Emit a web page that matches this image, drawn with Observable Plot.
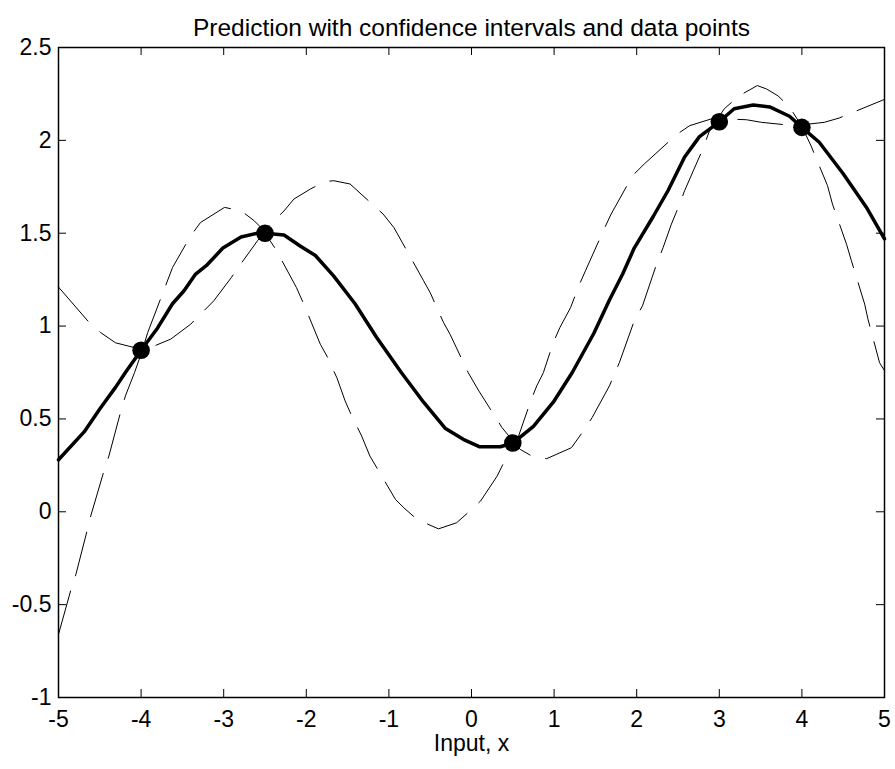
<!DOCTYPE html>
<html><head><meta charset="utf-8">
<script src="https://cdn.jsdelivr.net/npm/d3@7"></script>
<script src="https://cdn.jsdelivr.net/npm/@observablehq/plot@0.6"></script>
<style>html,body{margin:0;padding:0;background:#fff;} #chart svg{display:block;}</style>
</head><body><div id="chart"></div>
<script>
const titleText = "Prediction with confidence intervals and data points";
const xLabelText = "Input, x";
const xTicks = [-5,-4,-3,-2,-1,0,1,2,3,4,5];
const yTicks = [-1,-0.5,0,0.5,1,1.5,2,2.5];

const meanX = [-5.00,-4.69,-4.49,-4.31,-4.19,-4.00,-3.80,-3.62,-3.48,-3.34,-3.20,-3.01,-2.79,-2.59,-2.50,-2.27,-2.07,-1.89,-1.67,-1.41,-1.15,-0.85,-0.58,-0.32,-0.10,0.10,0.35,0.50,0.75,0.99,1.22,1.48,1.67,1.83,1.97,2.20,2.38,2.58,2.76,3.00,3.18,3.41,3.61,3.85,4.00,4.21,4.50,4.78,5.00];
const meanY = [0.28,0.43,0.56,0.67,0.75,0.87,0.99,1.12,1.19,1.28,1.33,1.42,1.48,1.50,1.50,1.49,1.43,1.38,1.27,1.12,0.94,0.75,0.59,0.45,0.39,0.35,0.35,0.37,0.46,0.59,0.75,0.96,1.14,1.28,1.42,1.59,1.73,1.91,2.02,2.10,2.17,2.19,2.18,2.13,2.07,1.99,1.82,1.64,1.47];

const bandAX = [-5.00,-4.63,-4.49,-4.31,-4.08,-4.00,-3.84,-3.64,-3.40,-3.28,-3.12,-2.91,-2.81,-2.59,-2.50,-2.43,-2.27,-2.15,-1.95,-1.78,-1.67,-1.47,-1.07,-0.94,-0.68,-0.58,-0.50,-0.34,-0.26,-0.04,0.09,0.37,0.50,0.59,0.73,0.91,1.21,1.34,1.46,1.67,1.79,1.97,2.07,2.24,2.32,2.42,2.52,2.58,2.80,2.88,3.00,3.06,3.24,3.46,3.57,3.71,3.85,4.00,4.11,4.31,4.37,4.54,4.60,4.76,4.80,4.94,5.00];
const bandAY = [1.21,1.02,0.965,0.91,0.884,0.875,0.893,0.93,1.01,1.064,1.136,1.26,1.324,1.46,1.51,1.55,1.62,1.684,1.738,1.777,1.783,1.765,1.603,1.531,1.324,1.244,1.18,1.02,0.956,0.749,0.65,0.453,0.383,0.336,0.30,0.286,0.345,0.426,0.507,0.678,0.803,1.028,1.109,1.333,1.423,1.549,1.657,1.729,1.953,2.05,2.13,2.17,2.24,2.295,2.277,2.24,2.18,2.075,1.971,1.756,1.657,1.441,1.351,1.118,1.037,0.803,0.76];

const bandBX = [-5.00,-4.85,-4.79,-4.65,-4.61,-4.45,-4.39,-4.25,-4.19,-4.08,-4.00,-3.92,-3.72,-3.62,-3.40,-3.28,-2.99,-2.79,-2.63,-2.55,-2.50,-2.37,-2.12,-2.03,-1.83,-1.74,-1.67,-1.63,-1.53,-1.45,-1.33,-1.23,-1.11,-0.92,-0.82,-0.66,-0.40,-0.18,-0.02,0.11,0.31,0.41,0.50,0.57,0.71,0.79,0.87,0.99,1.07,1.20,1.30,1.38,1.60,1.69,1.95,2.09,2.48,2.64,2.90,3.00,3.10,3.33,3.51,3.91,4.00,4.09,4.27,4.45,4.98,5.00];
const bandBY = [-0.66,-0.42,-0.338,-0.095,-0.023,0.219,0.30,0.534,0.624,0.749,0.85,0.965,1.198,1.315,1.486,1.558,1.639,1.621,1.567,1.531,1.50,1.414,1.208,1.118,0.902,0.83,0.76,0.722,0.597,0.516,0.408,0.30,0.21,0.066,0.022,-0.041,-0.092,-0.059,0.004,0.058,0.192,0.282,0.354,0.408,0.588,0.678,0.749,0.911,0.992,1.10,1.217,1.298,1.517,1.603,1.81,1.872,2.03,2.079,2.115,2.11,2.115,2.111,2.097,2.079,2.08,2.088,2.097,2.12,2.217,2.22];

const pointsX = [-4, -2.5, 0.5, 3, 4];
const pointsY = [0.87, 1.5, 0.37, 2.1, 2.07];

const toRows = (xs, ys) => xs.map((x, i) => ({x, y: ys[i]}));
const meanData = toRows(meanX, meanY);
const bandA = toRows(bandAX, bandAY);
const bandB = toRows(bandBX, bandBY);
const points = toRows(pointsX, pointsY);

const W = 895, H = 759, mL = 58, mR = 11, mT = 47, mB = 62;
const fw = W - mL - mR, fh = H - mT - mB, tickLen = 8;
const font = "'Liberation Sans', Arial, Helvetica, sans-serif";
const fmt = d => String(d);

const chart = Plot.plot({
  width: W, height: H,
  marginLeft: mL, marginRight: mR, marginTop: mT, marginBottom: mB,
  style: {fontFamily: font, fontSize: "23px", background: "white", color: "black", overflow: "hidden"},
  x: {domain: [-5, 5]},
  y: {domain: [-1, 2.5]},
  marks: [
    Plot.line(bandA, {x: "x", y: "y", stroke: "black", strokeWidth: 1, strokeDasharray: "45,16"}),
    Plot.line(bandB, {x: "x", y: "y", stroke: "black", strokeWidth: 1, strokeDasharray: "45,16"}),
    Plot.line(meanData, {x: "x", y: "y", stroke: "black", strokeWidth: 3.5, strokeLinejoin: "round"}),
    Plot.dot(points, {x: "x", y: "y", r: 8.8, fill: "black"}),
    Plot.frame({stroke: "black", strokeWidth: 1.5}),
    Plot.ruleX(xTicks, {x: d => d, insetTop: fh - tickLen, stroke: "black"}),
    Plot.ruleX(xTicks, {x: d => d, insetBottom: fh - tickLen, stroke: "black"}),
    Plot.ruleY(yTicks, {y: d => d, insetRight: fw - tickLen, stroke: "black"}),
    Plot.ruleY(yTicks, {y: d => d, insetLeft: fw - tickLen, stroke: "black"}),
    Plot.axisX(xTicks, {anchor: "bottom", tickSize: 0, tickPadding: 13, tickFormat: fmt, fontSize: 23, label: null, fill: "black"}),
    Plot.axisY(yTicks, {anchor: "left", tickSize: 0, tickPadding: 7, tickFormat: fmt, fontSize: 23, label: null, fill: "black"}),
    Plot.text([titleText], {frameAnchor: "top", dy: -28.8, fontSize: 24.5, fill: "black", text: d => d}),
    Plot.text([xLabelText], {frameAnchor: "bottom", dy: 53.5, fontSize: 23, fill: "black", text: d => d})
  ]
});
document.getElementById("chart").appendChild(chart);
</script>
</body></html>
